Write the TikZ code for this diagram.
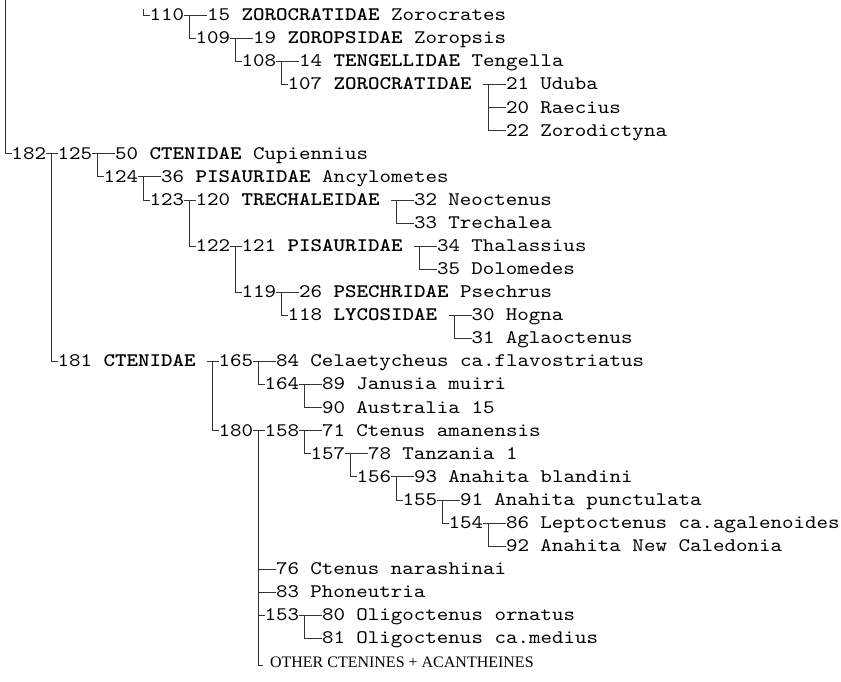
\documentclass[tikz,border=0pt]{standalone}
\usepackage{fontspec}
\newfontfamily\monof{lmmono10-regular.otf}[FakeStretch=1.1428, BoldFont=lmmonolt10-bold.otf]
\newfontfamily\serf{Liberation Serif}
\newcommand{\B}[1]{\textbf{#1}}
\newcommand{\mylab}[4]{\node[lb] (#1) at ({#2*11.5},{20.7+23.08*#3}) {#4};}
\tikzset{
  lb/.style={anchor=base west, inner sep=0pt, outer sep=0pt,
    font={\monof\fontsize{19.17pt}{23pt}\selectfont}, text height=11pt, text depth=0pt},
  serlab/.style={anchor=base west, inner sep=0pt, outer sep=0pt,
    font={\serf\fontsize{16pt}{18pt}\selectfont}},
  con/.style={draw=black!80, line width=0.65pt},
}
\begin{document}
\begin{tikzpicture}[x=1pt,y=-1pt]
\useasboundingbox (0,0) rectangle (841,681);
\fill[white] (0,0) rectangle (841,681);
% labels
\mylab{n110}{13}{0}{110}
\mylab{n15}{18}{0}{15 \B{ZOROCRATIDAE} Zorocrates}
\mylab{n109}{17}{1}{109}
\mylab{n19}{22}{1}{19 \B{ZOROPSIDAE} Zoropsis}
\mylab{n108}{21}{2}{108}
\mylab{n14}{26}{2}{14 \B{TENGELLIDAE} Tengella}
\mylab{n107}{25}{3}{107 \B{ZOROCRATIDAE}}
\mylab{n21}{44}{3}{21 Uduba}
\mylab{n20}{44}{4}{20 Raecius}
\mylab{n22}{44}{5}{22 Zorodictyna}
\mylab{n182}{1}{6}{182}
\mylab{n125}{5}{6}{125}
\mylab{n50}{10}{6}{50 \B{CTENIDAE} Cupiennius}
\mylab{n124}{9}{7}{124}
\mylab{n36}{14}{7}{36 \B{PISAURIDAE} Ancylometes}
\mylab{n123}{13}{8}{123}
\mylab{n120}{17}{8}{120 \B{TRECHALEIDAE}}
\mylab{n32}{36}{8}{32 Neoctenus}
\mylab{n33}{36}{9}{33 Trechalea}
\mylab{n122}{17}{10}{122}
\mylab{n121}{21}{10}{121 \B{PISAURIDAE}}
\mylab{n34}{38}{10}{34 Thalassius}
\mylab{n35}{38}{11}{35 Dolomedes}
\mylab{n119}{21}{12}{119}
\mylab{n26}{26}{12}{26 \B{PSECHRIDAE} Psechrus}
\mylab{n118}{25}{13}{118 \B{LYCOSIDAE}}
\mylab{n30}{41}{13}{30 Hogna}
\mylab{n31}{41}{14}{31 Aglaoctenus}
\mylab{n181}{5}{15}{181 \B{CTENIDAE}}
\mylab{n165}{19}{15}{165}
\mylab{n84}{24}{15}{84 Celaetycheus ca.flavostriatus}
\mylab{n164}{23}{16}{164}
\mylab{n89}{28}{16}{89 Janusia muiri}
\mylab{n90}{28}{17}{90 Australia 15}
\mylab{n180}{19}{18}{180}
\mylab{n158}{23}{18}{158}
\mylab{n71}{28}{18}{71 Ctenus amanensis}
\mylab{n157}{27}{19}{157}
\mylab{n78}{32}{19}{78 Tanzania 1}
\mylab{n156}{31}{20}{156}
\mylab{n93}{36}{20}{93 Anahita blandini}
\mylab{n155}{35}{21}{155}
\mylab{n91}{40}{21}{91 Anahita punctulata}
\mylab{n154}{39}{22}{154}
\mylab{n86}{44}{22}{86 Leptoctenus ca.agalenoides}
\mylab{n92}{44}{23}{92 Anahita New Caledonia}
\mylab{n76}{24}{24}{76 Ctenus narashinai}
\mylab{n83}{24}{25}{83 Phoneutria}
\mylab{n153}{23}{26}{153}
\mylab{n80}{28}{26}{80 Oligoctenus ornatus}
\mylab{n81}{28}{27}{81 Oligoctenus ca.medius}
\node[serlab] (other) at (270,667) {OTHER CTENINES + ACANTHEINES};
% free ends
\coordinate (rtop) at (5.75,0);
\coordinate (s110) at (143.75,9);
\coordinate (oc) at (263,665);
\coordinate (t107) at ([xshift=11.5pt]n107.east);
\coordinate (t120) at ([xshift=11.5pt]n120.east);
\coordinate (t121) at ([xshift=11.5pt]n121.east);
\coordinate (t118) at ([xshift=11.5pt]n118.east);
\coordinate (t181) at ([xshift=11.5pt]n181.east);
% connectors
\draw[con] (rtop) |- (n182.west);
\draw[con] (s110) |- (n110.west);
\draw[con] (n110.east) -- (n15.west);
\draw[con] ([xshift=5.75pt]n110.east) |- (n109.west);
\draw[con] (n109.east) -- (n19.west);
\draw[con] ([xshift=5.75pt]n109.east) |- (n108.west);
\draw[con] (n108.east) -- (n14.west);
\draw[con] ([xshift=5.75pt]n108.east) |- (n107.west);
\draw[con] (t107) -- (n21.west);
\draw[con] ([xshift=5.75pt]t107) |- (n22.west);
\draw[con] ([xshift=5.75pt]t107 |- n20.west) -- (n20.west);
\draw[con] (n182.east) -- (n125.west);
\draw[con] ([xshift=5.75pt]n182.east) |- (n181.west);
\draw[con] (n125.east) -- (n50.west);
\draw[con] ([xshift=5.75pt]n125.east) |- (n124.west);
\draw[con] (n124.east) -- (n36.west);
\draw[con] ([xshift=5.75pt]n124.east) |- (n123.west);
\draw[con] (n123.east) -- (n120.west);
\draw[con] ([xshift=5.75pt]n123.east) |- (n122.west);
\draw[con] (t120) -- (n32.west);
\draw[con] ([xshift=5.75pt]t120) |- (n33.west);
\draw[con] (n122.east) -- (n121.west);
\draw[con] ([xshift=5.75pt]n122.east) |- (n119.west);
\draw[con] (t121) -- (n34.west);
\draw[con] ([xshift=5.75pt]t121) |- (n35.west);
\draw[con] (n119.east) -- (n26.west);
\draw[con] ([xshift=5.75pt]n119.east) |- (n118.west);
\draw[con] (t118) -- (n30.west);
\draw[con] ([xshift=5.75pt]t118) |- (n31.west);
\draw[con] (t181) -- (n165.west);
\draw[con] ([xshift=5.75pt]t181) |- (n180.west);
\draw[con] (n165.east) -- (n84.west);
\draw[con] ([xshift=5.75pt]n165.east) |- (n164.west);
\draw[con] (n164.east) -- (n89.west);
\draw[con] ([xshift=5.75pt]n164.east) |- (n90.west);
\draw[con] (n180.east) -- (n158.west);
\draw[con] ([xshift=5.75pt]n180.east) |- (oc);
\draw[con] ([xshift=5.75pt]n180.east |- n76.west) -- (n76.west);
\draw[con] ([xshift=5.75pt]n180.east |- n83.west) -- (n83.west);
\draw[con] ([xshift=5.75pt]n180.east |- n153.west) -- (n153.west);
\draw[con] (n158.east) -- (n71.west);
\draw[con] ([xshift=5.75pt]n158.east) |- (n157.west);
\draw[con] (n157.east) -- (n78.west);
\draw[con] ([xshift=5.75pt]n157.east) |- (n156.west);
\draw[con] (n156.east) -- (n93.west);
\draw[con] ([xshift=5.75pt]n156.east) |- (n155.west);
\draw[con] (n155.east) -- (n91.west);
\draw[con] ([xshift=5.75pt]n155.east) |- (n154.west);
\draw[con] (n154.east) -- (n86.west);
\draw[con] ([xshift=5.75pt]n154.east) |- (n92.west);
\draw[con] (n153.east) -- (n80.west);
\draw[con] ([xshift=5.75pt]n153.east) |- (n81.west);
\end{tikzpicture}
\end{document}
